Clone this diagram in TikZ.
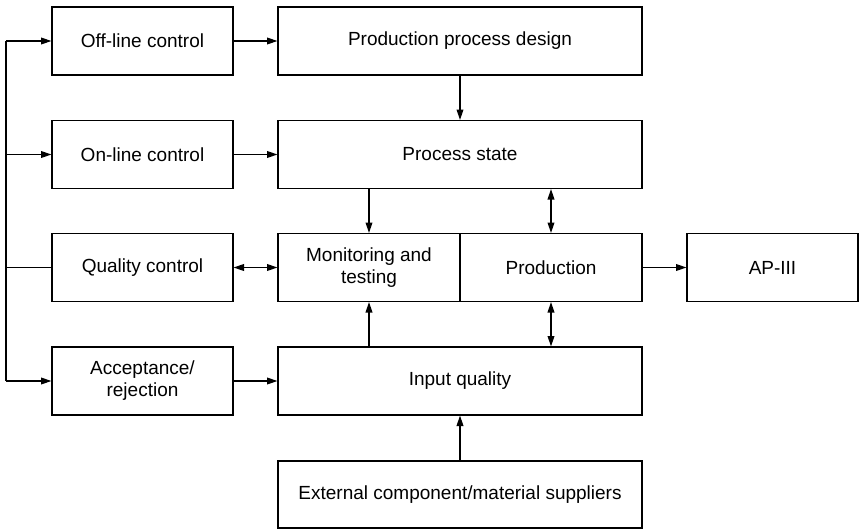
\documentclass[tikz,border=0pt]{standalone}
\usepackage{fontspec}
\setmainfont{Liberation Sans}
\usetikzlibrary{arrows.meta}
\begin{document}
\begin{tikzpicture}[x=0.5pt,y=-0.5pt,
  box/.style={draw,line width=0.6pt,rectangle,inner sep=0pt,align=center,
    font=\fontsize{9.5}{11}\selectfont,minimum height=34pt},
  sbox/.style={box,minimum width=90.5pt},
  wbox/.style={box,minimum width=182pt},
  hbox/.style={box,minimum width=91pt},
  tip/.style={Triangle[length=5.2pt,width=3.4pt]},
  arr/.style={line width=0.6pt,-{Triangle[length=5.2pt,width=3.4pt]}},
  darr/.style={line width=0.6pt,{Triangle[length=5.2pt,width=3.4pt]}-{Triangle[length=5.2pt,width=3.4pt]}},
  ln/.style={line width=0.6pt}]
\useasboundingbox (0,0) rectangle (866,530);
\node[sbox] (off) at (142.5,41) {Off-line control};
\node[wbox] (design) at (460,41) {Production process design};
\node[sbox] (on) at (142.5,154.5) {On-line control};
\node[wbox] (state) at (460,154.5) {Process state};
\node[sbox] (qc) at (142.5,267.5) {Quality control};
\node[hbox] (mon) at (369,267.5) {Monitoring and\\testing};
\node[hbox] (prod) at (551,267.5) {Production};
\node[box,minimum width=85.5pt] (ap) at (772.5,267.5) {AP-III};
\node[sbox] (acc) at (142.5,381) {Acceptance/\\rejection};
\node[wbox] (input) at (460,381) {Input quality};
\node[wbox,minimum height=33.5pt] (ext) at (460,494.5) {External component/material suppliers};
\coordinate (tl) at (6,41);
\coordinate (ml) at (6,154.5);
\coordinate (ql) at (6,267.5);
\coordinate (bl) at (6,381);
\draw[ln] (tl) -- (bl);
\draw[arr] (tl) -- (off.west);
\draw[arr] (ml) -- (on.west);
\draw[ln] (ql) -- (qc.west);
\draw[arr] (bl) -- (acc.west);
\draw[arr] (off.east) -- (design.west);
\draw[arr] (on.east) -- (state.west);
\draw[darr] (qc.east) -- (mon.west);
\draw[arr] (acc.east) -- (input.west);
\draw[arr] (design.south) -- (state.north);
\draw[arr] (mon.north |- state.south) -- (mon.north);
\draw[darr] (prod.north |- state.south) -- (prod.north);
\draw[arr] (mon.south |- input.north) -- (mon.south);
\draw[darr] (prod.south |- input.north) -- (prod.south);
\draw[arr] (prod.east) -- (ap.west);
\draw[arr] (ext.north) -- (input.south);
\end{tikzpicture}
\end{document}
